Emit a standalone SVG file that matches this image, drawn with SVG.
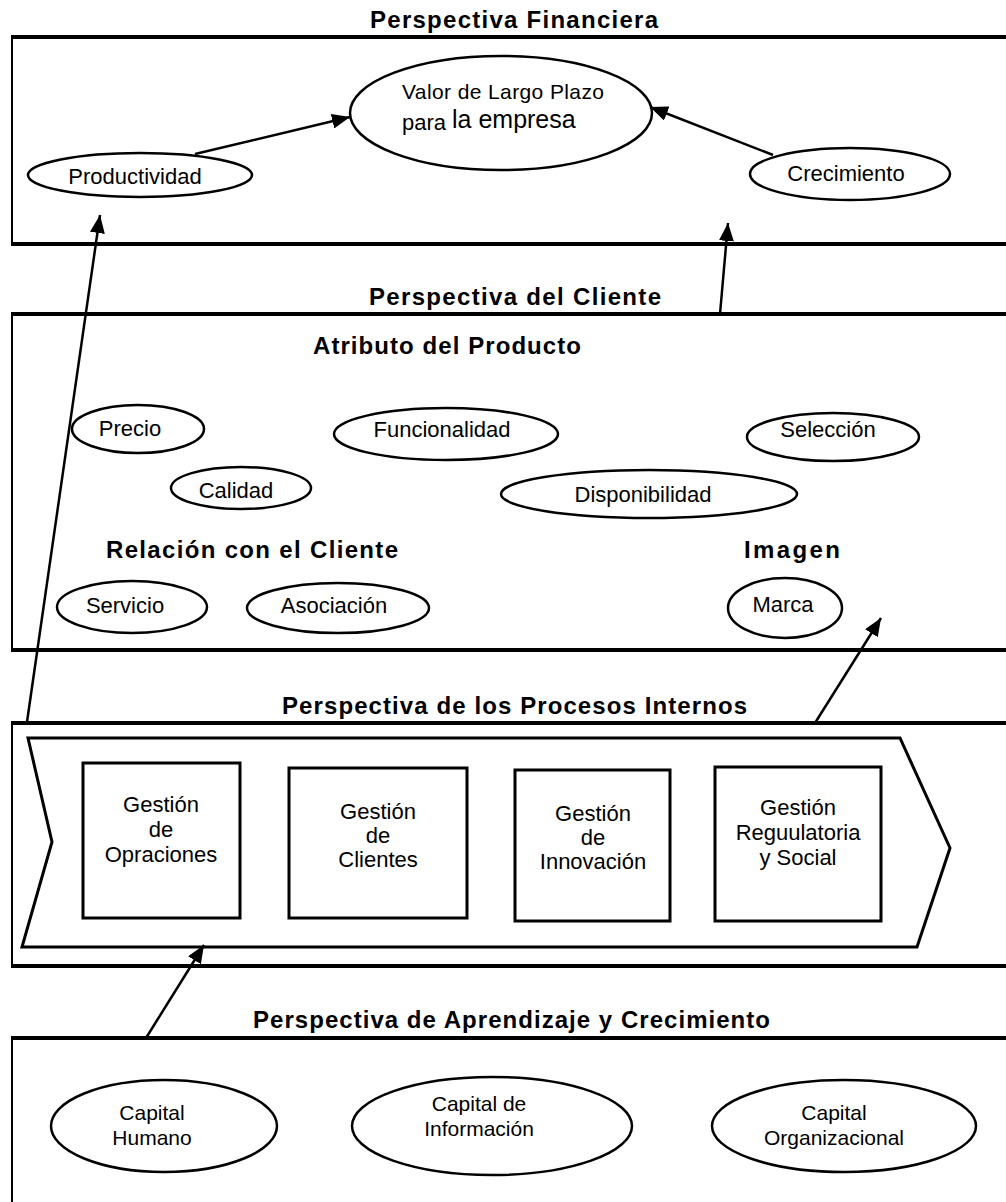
<svg xmlns="http://www.w3.org/2000/svg" width="1006" height="1202" viewBox="0 0 1006 1202">
<style>
text{font-family:"Liberation Sans",Arial,sans-serif;fill:#000}
.t{font-size:22px;text-anchor:middle}
.c{font-size:21px;text-anchor:middle}
.h{font-size:24px;font-weight:bold}
.ov{fill:#fff;stroke:#000;stroke-width:2.5}
.bx{fill:#fff;stroke:#000;stroke-width:3}
.hl{stroke:#000;stroke-width:4;fill:none}
.vl{stroke:#000;stroke-width:2;fill:none}
.cn{stroke:#000;stroke-width:2.5;fill:none;marker-end:url(#ah)}
</style>
<defs>
<marker id="ah" markerUnits="userSpaceOnUse" markerWidth="18" markerHeight="15" refX="18" refY="7.5" orient="auto">
<path d="M0,0 L18,7.5 L0,15 z" fill="#000"/>
</marker>
</defs>
<rect width="1006" height="1202" fill="#fff"/>

<g id="financiera">
<text class="h" x="370" y="28" textLength="288" lengthAdjust="spacing">Perspectiva Financiera</text>
<path class="hl" d="M11,37 H1006 M11,244 H1006"/>
<path class="vl" d="M12,37 V244"/>
</g>
<g id="valor">
<ellipse class="ov" cx="501" cy="113" rx="151" ry="57"/>
<text x="402" y="99" font-size="21" textLength="202" lengthAdjust="spacing">Valor de Largo Plazo</text>
<text x="402" y="130" font-size="22">para</text>
<text x="452" y="128" font-size="25">la empresa</text>
</g>
<g id="productividad">
<ellipse class="ov" cx="140" cy="175" rx="112" ry="22"/>
<text class="t" x="135" y="184">Productividad</text>
</g>
<g id="crecimiento">
<ellipse class="ov" cx="850" cy="174" rx="100" ry="26"/>
<text class="t" x="846" y="181">Crecimiento</text>
</g>

<g id="cliente">
<text class="h" x="369" y="305" textLength="292" lengthAdjust="spacing">Perspectiva del Cliente</text>
<path class="hl" d="M11,314 H1006 M11,650 H1006"/>
<path class="vl" d="M12,314 V650"/>
<text class="h" x="313" y="354" textLength="268" lengthAdjust="spacing">Atributo del Producto</text>
<text class="h" x="106" y="558" textLength="292" lengthAdjust="spacing">Relación con el Cliente</text>
<text class="h" x="744" y="558" textLength="96" lengthAdjust="spacing">Imagen</text>
</g>
<g id="precio">
<ellipse class="ov" cx="138" cy="429" rx="66" ry="24"/>
<text class="t" x="130" y="436">Precio</text>
</g>
<g id="funcionalidad">
<ellipse class="ov" cx="446" cy="434" rx="112" ry="26"/>
<text class="t" x="442" y="437">Funcionalidad</text>
</g>
<g id="seleccion">
<ellipse class="ov" cx="833" cy="437" rx="86" ry="24"/>
<text class="t" x="828" y="437">Selección</text>
</g>
<g id="calidad">
<ellipse class="ov" cx="241" cy="488" rx="70" ry="21"/>
<text class="t" x="236" y="498">Calidad</text>
</g>
<g id="disponibilidad">
<ellipse class="ov" cx="649" cy="494" rx="148" ry="24"/>
<text class="t" x="643" y="502">Disponibilidad</text>
</g>
<g id="servicio">
<ellipse class="ov" cx="132" cy="607" rx="75" ry="26"/>
<text class="t" x="125" y="613">Servicio</text>
</g>
<g id="asociacion">
<ellipse class="ov" cx="338" cy="608" rx="91" ry="25"/>
<text class="t" x="334" y="613">Asociación</text>
</g>
<g id="marca">
<ellipse class="ov" cx="785" cy="608" rx="57" ry="30"/>
<text class="t" x="783" y="612">Marca</text>
</g>

<g id="procesos">
<text class="h" x="282" y="714" textLength="465" lengthAdjust="spacing">Perspectiva de los Procesos Internos</text>
<path class="hl" d="M11,723 H1006 M11,966 H1006"/>
<path class="vl" d="M12,723 V966"/>
<polygon points="28,738 900,738 950,848 917,947 22,947 52,842" fill="#fff" stroke="#000" stroke-width="3" stroke-linejoin="miter"/>
</g>
<g id="g-operaciones">
<rect class="bx" x="83" y="763" width="157" height="155"/>
<text class="t" x="161" y="812">Gestión</text>
<text class="t" x="161" y="837">de</text>
<text class="t" x="161" y="862">Opraciones</text>
</g>
<g id="g-clientes">
<rect class="bx" x="289" y="768" width="178" height="150"/>
<text class="t" x="378" y="819">Gestión</text>
<text class="t" x="378" y="843">de</text>
<text class="t" x="378" y="867">Clientes</text>
</g>
<g id="g-innovacion">
<rect class="bx" x="515" y="770" width="155" height="151"/>
<text class="t" x="593" y="821">Gestión</text>
<text class="t" x="593" y="845">de</text>
<text class="t" x="593" y="869">Innovación</text>
</g>
<g id="g-regulatoria">
<rect class="bx" x="715" y="767" width="166" height="154"/>
<text class="t" x="798" y="815">Gestión</text>
<text class="t" x="798" y="840">Reguulatoria</text>
<text class="t" x="798" y="865">y Social</text>
</g>

<g id="aprendizaje">
<text class="h" x="253" y="1028" textLength="517" lengthAdjust="spacing">Perspectiva de Aprendizaje y Crecimiento</text>
<path class="hl" d="M11,1038 H1006"/>
<path class="vl" d="M12,1038 V1202"/>
</g>
<g id="capital-humano">
<ellipse class="ov" cx="164" cy="1126" rx="113" ry="46"/>
<text class="c" x="152" y="1120">Capital</text>
<text class="c" x="152" y="1145">Humano</text>
</g>
<g id="capital-informacion">
<ellipse class="ov" cx="492" cy="1126" rx="140" ry="49"/>
<text class="c" x="479" y="1111">Capital de</text>
<text class="c" x="479" y="1136">Información</text>
</g>
<g id="capital-organizacional">
<ellipse class="ov" cx="844" cy="1126" rx="132" ry="46"/>
<text class="c" x="834" y="1120">Capital</text>
<text class="c" x="834" y="1145">Organizacional</text>
</g>

<g id="connectors">
<line class="cn" x1="195" y1="154" x2="350" y2="117"/>
<line class="cn" x1="773" y1="155" x2="650" y2="107"/>
<line class="cn" x1="27" y1="722" x2="100" y2="215"/>
<line class="cn" x1="720" y1="314" x2="728" y2="223"/>
<line class="cn" x1="815" y1="723" x2="881" y2="618"/>
<line class="cn" x1="146" y1="1038" x2="204" y2="945"/>
</g>
</svg>
